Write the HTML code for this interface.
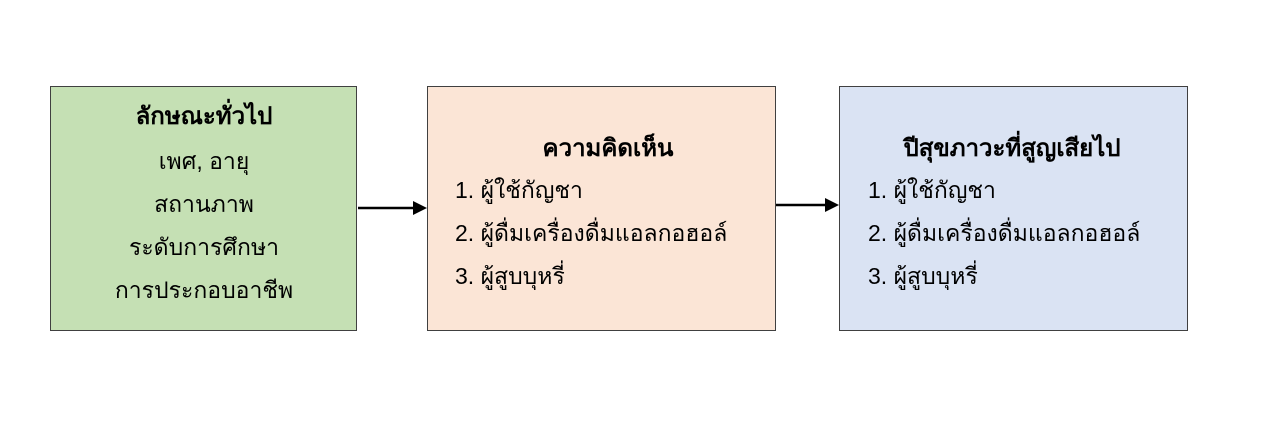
<!DOCTYPE html>
<html><head><meta charset="utf-8"><style>
body{margin:0;width:1266px;height:445px;background:#fff;position:relative;overflow:hidden;font-family:"Liberation Sans","DejaVu Sans",sans-serif;font-size:23px;color:#000}
.b{position:absolute;border:1px solid #404040;box-sizing:border-box}
.t{position:absolute;white-space:nowrap;line-height:1}
.c{transform:translateX(-50%)}
.h{font-weight:bold;font-size:24px}
</style></head><body>
<div class="b" style="left:50px;top:86px;width:307px;height:245px;background:#c5e0b4"></div>
<div class="b" style="left:427px;top:86px;width:349px;height:245px;background:#fbe5d6"></div>
<div class="b" style="left:839px;top:86px;width:349px;height:245px;background:#dae3f3"></div>
<div class="t c h" style="left:204px;top:105px">ลักษณะทั่วไป</div>
<div class="t c" style="left:204px;top:150px">เพศ, อายุ</div>
<div class="t c" style="left:204px;top:193px">สถานภาพ</div>
<div class="t c" style="left:204px;top:236px">ระดับการศึกษา</div>
<div class="t c" style="left:204px;top:279px">การประกอบอาชีพ</div>
<div class="t c h" style="left:608px;top:137px">ความคิดเห็น</div>
<div class="t" style="left:455px;top:179px">1. ผู้ใช้กัญชา</div>
<div class="t" style="left:455px;top:222px">2. ผู้ดื่มเครื่องดื่มแอลกอฮอล์</div>
<div class="t" style="left:455px;top:265px">3. ผู้สูบบุหรี่</div>
<div class="t c h" style="left:1012px;top:137px">ปีสุขภาวะที่สูญเสียไป</div>
<div class="t" style="left:868px;top:179px">1. ผู้ใช้กัญชา</div>
<div class="t" style="left:868px;top:222px">2. ผู้ดื่มเครื่องดื่มแอลกอฮอล์</div>
<div class="t" style="left:868px;top:265px">3. ผู้สูบบุหรี่</div>
<svg width="1266" height="445" style="position:absolute;left:0;top:0">
<line x1="358" y1="208" x2="414" y2="208" stroke="#000" stroke-width="2.5"/>
<polygon points="427,208 413,201 413,215" fill="#000"/>
<line x1="776" y1="205" x2="826" y2="205" stroke="#000" stroke-width="2.5"/>
<polygon points="839,205 825,198 825,212" fill="#000"/>
</svg>
</body></html>
